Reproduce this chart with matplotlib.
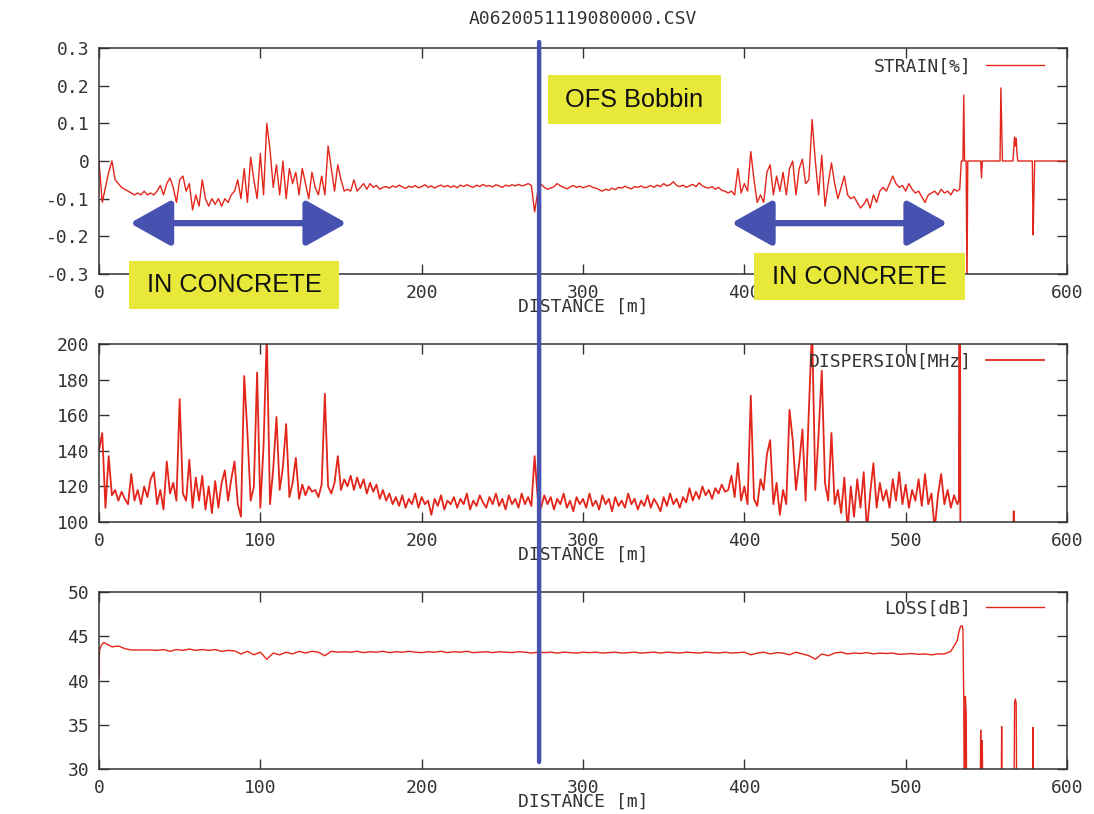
import numpy as np
import matplotlib
matplotlib.use("Agg")
import matplotlib.pyplot as plt
from matplotlib.patches import Rectangle, ConnectionPatch

plt.rcParams['font.family'] = 'DejaVu Sans Mono'
plt.rcParams['axes.unicode_minus'] = False

# ---- data ----
title = "A0620051119080000.CSV"

# strain [%], every 2 m from 0 to 532 m
strain_d = np.arange(0, 534, 2)
strain = [
    0.00, -0.11, -0.07, -0.03, 0.00, -0.05, -0.06, -0.07, -0.075, -0.08,
    -0.085, -0.09, -0.085, -0.09, -0.08, -0.09, -0.085, -0.09, -0.08, -0.065,
    -0.09, -0.06, -0.045, -0.07, -0.11, -0.05, -0.04, -0.08, -0.06, -0.13,
    -0.09, -0.12, -0.05, -0.10, -0.12, -0.10, -0.115, -0.10, -0.12, -0.10,
    -0.11, -0.09, -0.08, -0.05, -0.10, -0.02, -0.11, 0.01, -0.05, -0.10,
    0.02, -0.09, 0.10, 0.03, -0.07, -0.01, -0.09, 0.00, -0.10, -0.02,
    -0.06, -0.03, -0.09, -0.02, -0.06, -0.10, -0.03, -0.07, -0.09, -0.04,
    -0.09, 0.04, -0.02, -0.08, -0.01, -0.05, -0.08, -0.075, -0.08, -0.05,
    -0.08, -0.07, -0.06, -0.075, -0.06, -0.07, -0.065, -0.075, -0.07, -0.068,
    -0.072, -0.066, -0.07, -0.064, -0.069, -0.073, -0.067, -0.07, -0.065, -0.071,
    -0.068, -0.063, -0.07, -0.066, -0.072, -0.067, -0.064, -0.069, -0.065, -0.07,
    -0.066, -0.071, -0.064, -0.068, -0.063, -0.067, -0.07, -0.064, -0.068, -0.062,
    -0.067, -0.065, -0.069, -0.063, -0.066, -0.07, -0.064, -0.067, -0.063, -0.066,
    -0.062, -0.066, -0.064, -0.06, -0.065, -0.135, -0.08, -0.062, -0.07, -0.075,
    -0.072, -0.068, -0.06, -0.066, -0.07, -0.074, -0.069, -0.065, -0.07, -0.067,
    -0.071, -0.068, -0.065, -0.07, -0.072, -0.076, -0.08, -0.075, -0.078, -0.072,
    -0.076, -0.07, -0.072, -0.067, -0.071, -0.074, -0.068, -0.07, -0.066, -0.071,
    -0.069, -0.065, -0.07, -0.064, -0.068, -0.06, -0.066, -0.063, -0.055, -0.065,
    -0.068, -0.064, -0.07, -0.066, -0.062, -0.068, -0.058, -0.066, -0.07, -0.072,
    -0.068, -0.075, -0.07, -0.078, -0.08, -0.085, -0.08, -0.09, -0.02, -0.085,
    -0.06, -0.08, 0.025, -0.05, -0.11, -0.09, -0.11, -0.03, -0.01, -0.09,
    -0.04, -0.08, -0.03, -0.09, -0.02, 0.00, -0.09, -0.02, 0.005, -0.06,
    -0.05, 0.11, 0.00, -0.09, 0.015, -0.12, -0.06, -0.005, -0.06, -0.10,
    -0.07, -0.04, -0.09, -0.10, -0.095, -0.11, -0.125, -0.115, -0.10, -0.125,
    -0.09, -0.11, -0.08, -0.07, -0.08, -0.06, -0.04, -0.06, -0.07, -0.065,
    -0.08, -0.06, -0.075, -0.085, -0.08, -0.095, -0.11, -0.09, -0.085, -0.08,
    -0.09, -0.075, -0.085, -0.08, -0.09, -0.075, -0.08,
]
# end of fibre (spikes)
strain_tail_d = [533.5, 534.5, 535.5, 536, 536.5, 537.5, 538, 538.5, 546.5, 547, 547.5,
                 558.5, 559, 559.5, 560, 566.5, 567, 567.5, 568, 568.5, 569, 569.5,
                 578.5, 579, 579.5, 580, 600]
strain_tail = [-0.075, 0.0, 0.0, 0.175, 0.0, 0.0, -0.35, 0.0, 0.0, -0.045, 0.0,
               0.0, 0.194, 0.10, 0.0, 0.0, 0.03, 0.064, 0.04, 0.06, 0.02, 0.0,
               0.0, -0.196, -0.09, 0.0, 0.0]

# dispersion [MHz], every 2 m from 0 to 532 m
disp_d = np.arange(0, 534, 2)
disp = [
    140, 150, 108, 137, 115, 118, 112, 117, 113, 110,
    127, 112, 118, 110, 120, 114, 124, 128, 110, 118,
    107, 134, 116, 122, 112, 169, 116, 112, 135, 108,
    125, 112, 126, 107, 120, 105, 123, 108, 122, 129,
    112, 124, 134, 110, 103, 182, 150, 112, 120, 184,
    108, 143, 205, 110, 130, 159, 118, 131, 155, 114,
    122, 136, 113, 121, 115, 120, 117, 118, 114, 121,
    172, 120, 116, 122, 137, 118, 124, 120, 126, 118,
    125, 119, 124, 116, 122, 117, 121, 113, 118, 112,
    116, 110, 114, 109, 115, 108, 113, 110, 116, 108,
    114, 110, 112, 104, 113, 109, 115, 107, 112, 110,
    114, 108, 113, 110, 116, 107, 112, 109, 115, 111,
    108, 114, 110, 116, 109, 113, 107, 115, 110, 113,
    108, 116, 110, 114, 109, 137, 113, 108, 115, 110,
    114, 107, 113, 110, 116, 108, 112, 106, 114, 110,
    113, 108, 116, 109, 112, 107, 115, 110, 113, 106,
    114, 109, 112, 108, 116, 110, 113, 107, 112, 109,
    115, 108, 113, 110, 106, 114, 109, 116, 110, 113,
    108, 114, 111, 119, 112, 117, 113, 120, 115, 118,
    113, 119, 116, 121, 117, 118, 126, 114, 133, 112,
    120, 110, 171, 113, 109, 124, 118, 138, 146, 110,
    122, 104, 118, 110, 163, 146, 118, 133, 152, 112,
    163, 210, 118, 149, 185, 122, 112, 150, 110, 118,
    105, 125, 95, 120, 103, 124, 108, 128, 95, 116,
    133, 108, 122, 112, 118, 108, 124, 112, 128, 110,
    121, 108, 118, 112, 124, 109, 127, 110, 116, 96,
    115, 127, 110, 118, 108, 115, 110,
]
disp_tail_d = [533, 533.5, 534, 566.5, 567, 567.5, 600]
disp_tail = [112, 400, 20, 20, 106, 20, 20]

# loss [dB]
loss_head_d = [0, 0.3, 1.5, 3, 5]
loss_head = [40.3, 43.4, 44.0, 44.3, 44.1]
loss_d = np.arange(8, 536, 4)
loss = [
    43.8, 43.9, 43.6, 43.45, 43.45, 43.45, 43.45, 43.4, 43.5, 43.3,
    43.5, 43.4, 43.55, 43.4, 43.5, 43.4, 43.5, 43.3, 43.4, 43.35,
    43.0, 43.3, 42.9, 43.2, 42.4, 43.1, 42.9, 43.2, 43.0, 43.3,
    43.1, 43.3, 43.2, 42.8, 43.3, 43.2, 43.25, 43.2, 43.3, 43.15,
    43.25, 43.2, 43.3, 43.15, 43.25, 43.2, 43.3, 43.2, 43.15, 43.25,
    43.2, 43.3, 43.15, 43.25, 43.2, 43.3, 43.15, 43.2, 43.25, 43.15,
    43.25, 43.2, 43.15, 43.25, 43.2, 43.1, 43.2, 43.15, 43.2, 43.1,
    43.2, 43.15, 43.1, 43.2, 43.15, 43.2, 43.1, 43.15, 43.2, 43.1,
    43.15, 43.2, 43.1, 43.15, 43.2, 43.1, 43.2, 43.15, 43.1, 43.2,
    43.15, 43.1, 43.2, 43.15, 43.1, 43.2, 43.1, 43.15, 43.2, 42.9,
    43.1, 43.2, 43.0, 43.15, 43.1, 42.9, 43.2, 43.0, 42.8, 42.4,
    43.0, 42.8, 43.1, 43.2, 43.0, 43.1, 43.05, 43.15, 43.0, 43.1,
    43.05, 43.1, 42.95, 43.0, 43.05, 42.95, 43.0, 42.9, 43.0, 43.0,
    43.3, 44.5,
]
loss_tail_d = [533, 534, 535, 535.5, 536, 536.5, 537, 537.5, 538, 546, 546.5, 547,
               547.5, 548, 559, 559.5, 560, 567, 567.5, 568, 568.5, 569, 578.5,
               579, 579.5, 600]
loss_tail = [45.5, 46.1, 46.2, 45.8, 38.0, 20, 38.2, 36.4, 20, 20, 34.4, 20,
             33.2, 20, 20, 34.8, 20, 20, 37.5, 37.9, 37.4, 20, 20,
             34.7, 20, 20]

bobbin_at = 272.8
concrete_zones = [(19.2, 153.5), (392, 526)]

red = '#e3261b'
blue = '#4651b0'
yellow = '#e8e83a'
dark = '#333333'
W, H = 1094, 814
fs = 13

fig = plt.figure(figsize=(W / 100, H / 100), dpi=100)


def make_axes(top, bottom):
    ax = fig.add_axes([99 / W, 1 - bottom / H, 968 / W, (bottom - top) / H])
    for s in ax.spines.values():
        s.set_color(dark)
        s.set_linewidth(1.1)
    ax.tick_params(direction='in', top=True, right=True, length=7, width=1,
                   color=dark, labelcolor=dark, labelsize=fs)
    ax.tick_params(axis='y', pad=7)
    ax.tick_params(axis='x', pad=7)
    ax.set_xlim(0, 600)
    ax.set_xticks(range(0, 700, 100))
    ax.set_xlabel("DISTANCE [m]", fontsize=fs, color=dark, labelpad=-3)
    return ax


def add_legend(ax, line, ytop):
    ax.legend([line], [line.get_label()], loc='upper right', bbox_to_anchor=(0.976, ytop),
              frameon=False, markerfirst=False, handlelength=3.2, handletextpad=0.8,
              borderpad=0, borderaxespad=0, fontsize=fs, labelcolor=dark)


ax1 = make_axes(48, 274)
ax2 = make_axes(344, 522)
ax3 = make_axes(592, 769)

# strain
l1, = ax1.plot(np.concatenate([strain_d, strain_tail_d]), strain + strain_tail,
               color=red, lw=1.0, label="STRAIN[%]")
ax1.set_ylim(-0.3, 0.3)
ax1.set_yticks([0.3, 0.2, 0.1, 0, -0.1, -0.2, -0.3])
ax1.set_yticklabels(["0.3", "0.2", "0.1", "0", "-0.1", "-0.2", "-0.3"])
add_legend(ax1, l1, 0.958)

# dispersion
l2, = ax2.plot(np.concatenate([disp_d, disp_tail_d]), disp + disp_tail,
               color=red, lw=1.3, label="DISPERSION[MHz]")
ax2.set_ylim(100, 200)
ax2.set_yticks(range(100, 220, 20))
add_legend(ax2, l2, 0.952)

# loss
l3, = ax3.plot(np.concatenate([loss_head_d, loss_d, loss_tail_d]), loss_head + loss + loss_tail,
               color=red, lw=1.0, label="LOSS[dB]")
ax3.set_ylim(30, 50)
ax3.set_yticks(range(30, 55, 5))
add_legend(ax3, l3, 0.958)

fig.text(583 / W, 1 - 19.5 / H, title, ha='center', va='center', fontsize=fs, color=dark)

# annotations on the strain panel
for x0, x1 in concrete_zones:
    ax1.annotate('', xy=(x1, -0.165), xytext=(x0, -0.165), annotation_clip=False,
                 arrowprops=dict(arrowstyle='<|-|>,head_length=1.25,head_width=0.7',
                                 color=blue, lw=4.5, mutation_scale=20,
                                 shrinkA=0, shrinkB=0), zorder=6)

boxes = [(18.6, 148.8, -0.2655, -0.393, "IN CONCRETE"),
         (406.3, 537.0, -0.2445, -0.369, "IN CONCRETE"),
         (278.4, 385.4, 0.228, 0.0982, "OFS Bobbin")]
for xa, xb, ya, yb, txt in boxes:
    ax1.add_patch(Rectangle((xa, yb), xb - xa, ya - yb, facecolor=yellow, edgecolor='none',
                            clip_on=False, zorder=7))
    ax1.text((xa + xb) / 2, (ya + yb) / 2, txt, ha='center', va='center', fontsize=18.3,
             family='Liberation Sans', color='#111111', zorder=8, clip_on=False)

# bobbin position line across all panels
con = ConnectionPatch(xyA=(bobbin_at, 0.316), coordsA=ax1.transData,
                      xyB=(bobbin_at, 30.8), coordsB=ax3.transData,
                      color=blue, lw=3.2, zorder=10)
fig.add_artist(con)

fig.savefig("out.png", dpi=100)
